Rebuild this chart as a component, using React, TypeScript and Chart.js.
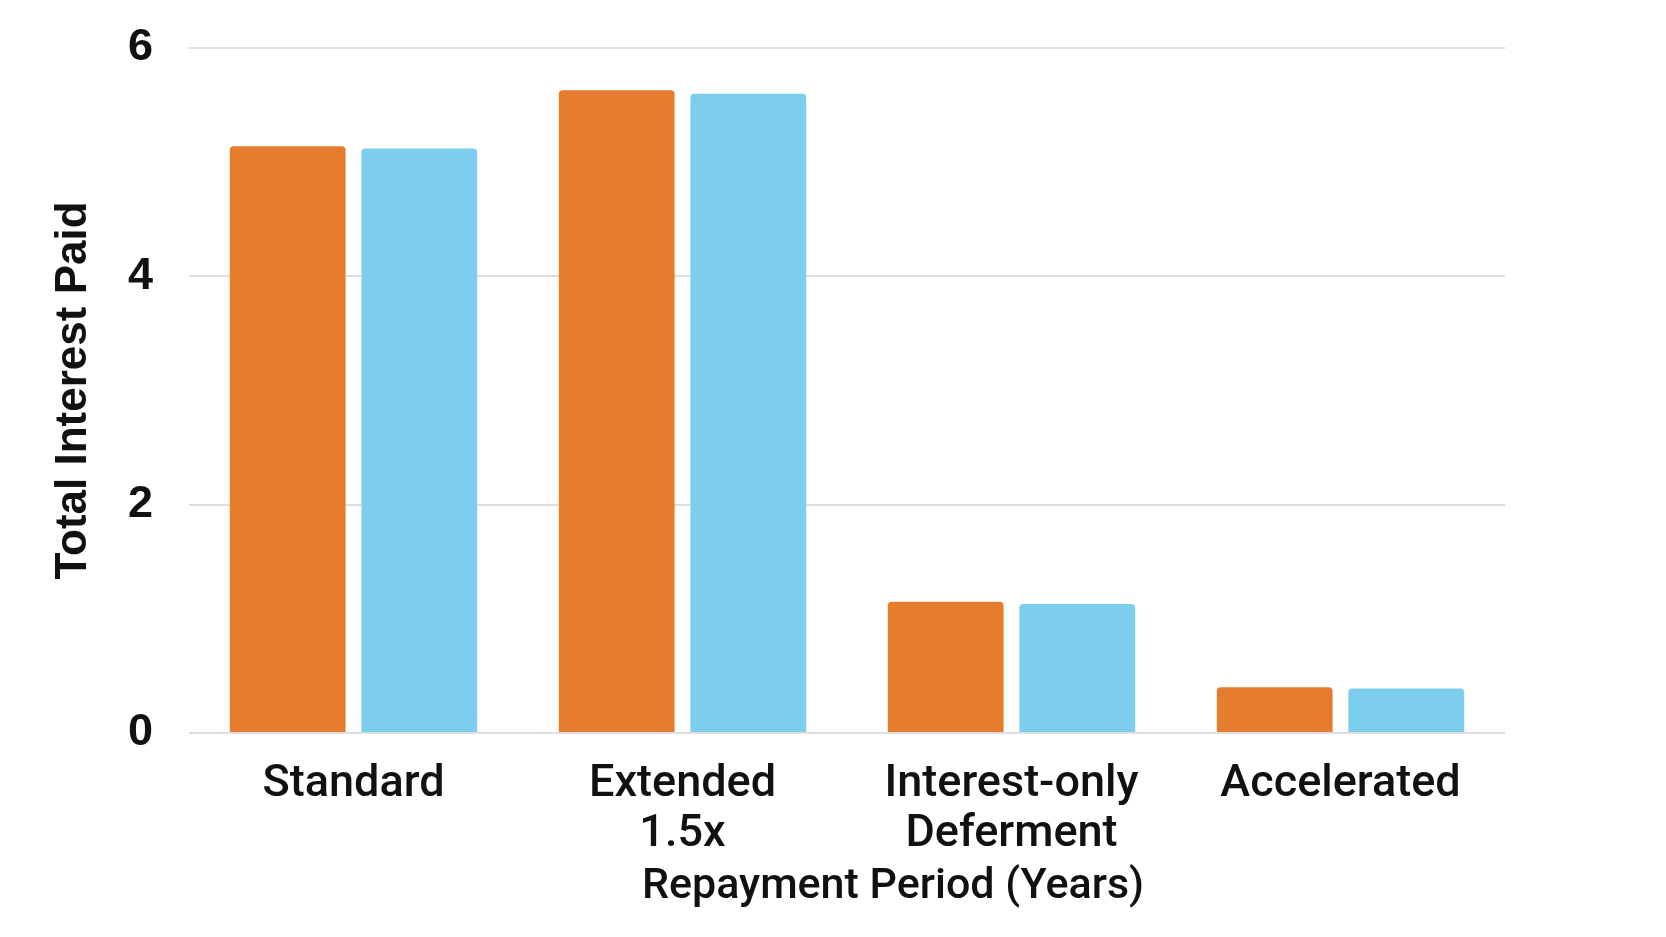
import React, { useEffect, useRef } from "react";
import { Chart, registerables } from "chart.js";

Chart.register(...registerables);

const categories: string[][] = [["Standard"], ["Extended", "1.5x"], ["Interest-only", "Deferment"], ["Accelerated"]];
const seriesA: number[] = [5.14, 5.63, 1.15, 0.4];
const seriesB: number[] = [5.12, 5.6, 1.13, 0.39];
const yTicks: number[] = [0, 2, 4, 6];
const xTitle = "Repayment Period (Years)";
const yTitle = "Total Interest Paid";

const xTitlePlugin = {
  id: "xTitleShifted",
  afterDraw(chart: any) {
    const { ctx, chartArea } = chart;
    ctx.save();
    ctx.font = "500 43px Roboto, 'Liberation Sans', Arial, sans-serif";
    ctx.fillStyle = "#111111";
    ctx.textAlign = "center";
    ctx.textBaseline = "alphabetic";
    ctx.fillText(xTitle, (chartArea.left + chartArea.right) / 2 + 46, chartArea.bottom + 165);
    ctx.restore();
  },
};

export default function App() {
  const ref = useRef<HTMLCanvasElement | null>(null);

  useEffect(() => {
    let chart: Chart | null = null;
    let cancelled = false;
    const make = () => {
      if (cancelled || !ref.current) return;
      chart = new Chart(ref.current, {
        type: "bar",
        data: {
          labels: categories,
          datasets: [
            {
              label: "Series A",
              data: seriesA,
              backgroundColor: "#E67C2E",
              borderRadius: { topLeft: 4, topRight: 4, bottomLeft: 0, bottomRight: 0 },
              borderSkipped: false,
              categoryPercentage: 0.8,
              barPercentage: 0.88,
            },
            {
              label: "Series B",
              data: seriesB,
              backgroundColor: "#7DCDEC",
              borderRadius: { topLeft: 4, topRight: 4, bottomLeft: 0, bottomRight: 0 },
              borderSkipped: false,
              categoryPercentage: 0.8,
              barPercentage: 0.88,
            },
          ],
        },
        options: {
          animation: false,
          responsive: true,
          maintainAspectRatio: false,
          layout: { padding: { top: 40, right: 153, bottom: 76, left: 0 } },
          plugins: {
            legend: { display: false },
            tooltip: { enabled: false },
          },
          scales: {
            x: {
              afterFit: (scale: any) => {
                scale.height = 120;
              },
              grid: { display: false },
              border: { display: false },
              ticks: {
                color: "#111111",
                padding: 19,
                font: { family: "Roboto, 'Liberation Sans', Arial, sans-serif", size: 45, weight: "500", lineHeight: "50px" },
              },
            },
            y: {
              min: 0,
              max: 6,
              afterBuildTicks: (scale: any) => {
                scale.ticks = yTicks.map((v) => ({ value: v }));
              },
              afterFit: (scale: any) => {
                scale.width = 181;
                scale.paddingTop = 0;
                scale.paddingBottom = 0;
              },
              grid: { color: "#dedede", lineWidth: 2, drawTicks: false },
              border: { display: false },
              ticks: {
                color: "#111111",
                padding: 36,
                font: { family: "'Liberation Sans', Arial, Helvetica, sans-serif", size: 45, weight: "bold" },
              },
              title: {
                display: true,
                text: yTitle,
                color: "#111111",
                padding: { top: 39.6, bottom: 10 },
                font: { family: "'Liberation Sans', Arial, Helvetica, sans-serif", size: 44, weight: "bold", lineHeight: 1.2 },
              },
            },
          },
        },
        plugins: [xTitlePlugin],
      });
    };
    const fontsReady = (document as any).fonts
      ? Promise.all([
          (document as any).fonts.load("500 45px Roboto"),
          (document as any).fonts.load("bold 45px 'Liberation Sans'"),
        ]).catch(() => null)
      : Promise.resolve(null);
    fontsReady.then(make);
    return () => {
      cancelled = true;
      if (chart) chart.destroy();
    };
  }, []);

  return (
    <div style={{ position: "relative", width: "1650px", height: "921px", background: "#ffffff" }}>
      <canvas ref={ref} />
    </div>
  );
}
